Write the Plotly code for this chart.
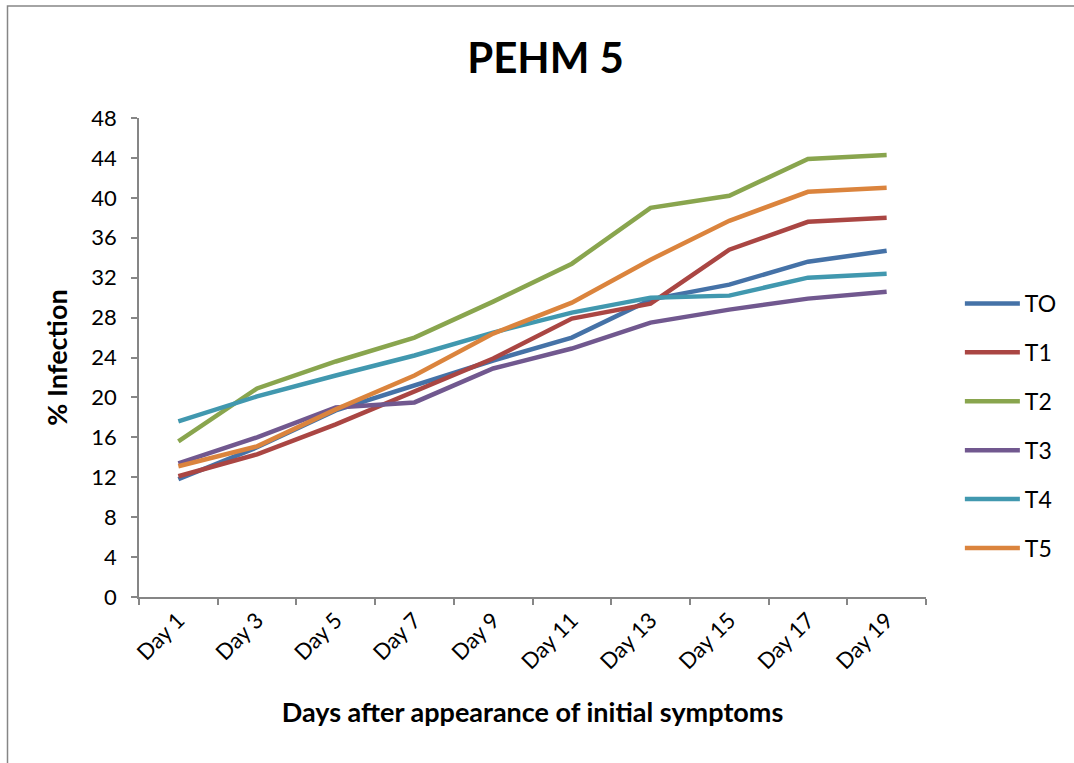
import plotly.graph_objects as go

# Disease progression of PEHM 5 under six treatments
days = ["Day 1", "Day 3", "Day 5", "Day 7", "Day 9",
        "Day 11", "Day 13", "Day 15", "Day 17", "Day 19"]

t0 = [11.8, 15.0, 18.7, 21.2, 23.7, 26.0, 29.8, 31.3, 33.6, 34.7]
t1 = [12.1, 14.3, 17.3, 20.6, 23.9, 27.9, 29.4, 34.8, 37.6, 38.0]
t2 = [15.6, 20.9, 23.6, 26.0, 29.6, 33.4, 39.0, 40.2, 43.9, 44.3]
t3 = [13.4, 16.0, 19.0, 19.5, 22.9, 24.9, 27.5, 28.8, 29.9, 30.6]
t4 = [17.6, 20.1, 22.2, 24.2, 26.5, 28.5, 30.0, 30.2, 32.0, 32.4]
t5 = [13.1, 15.1, 18.8, 22.2, 26.4, 29.5, 33.8, 37.7, 40.6, 41.0]

series_names = ["TO", "T1", "T2", "T3", "T4", "T5"]
series_values = [t0, t1, t2, t3, t4, t5]
series_colors = ["#4572A7", "#AA4643", "#89A54E", "#71588F", "#4198AF", "#DB843D"]

y_ticks = list(range(0, 49, 4))

FONT = "Lato"

fig = go.Figure()
for name, vals, col in zip(series_names, series_values, series_colors):
    fig.add_trace(go.Scatter(
        x=days, y=vals, name=name, mode="lines",
        line=dict(color=col, width=4.5),
        legendgroup=name,
    ))

axis_gray = "#868686"

fig.update_layout(
    width=1074, height=763,
    paper_bgcolor="white", plot_bgcolor="white",
    margin=dict(l=139, r=145, t=118, b=166),
    font=dict(family=FONT, color="black", size=22),
    title=dict(text="<b>PEHM 5</b>", x=0.508, xanchor="center",
               y=1 - 58 / 763, yanchor="middle",
               font=dict(family=FONT, size=42, color="black")),
    showlegend=True,
    legend=dict(x=(968 - 139 - 5) / 790, xanchor="left",
                y=(597 - 426) / 479, yanchor="middle",
                font=dict(family=FONT, size=23, color="black"),
                tracegroupgap=16, itemwidth=55,
                bgcolor="rgba(0,0,0,0)"),
    xaxis=dict(
        type="category", range=[-0.5, 9.5],
        showline=True, linecolor=axis_gray, linewidth=1.5,
        ticks="outside", tickson="boundaries", ticklen=6,
        tickcolor=axis_gray, tickwidth=1.5,
        tickangle=-45, showgrid=False, zeroline=False,
        tickfont=dict(family=FONT, size=22, color="black"),
        title=dict(text="<b>Days after appearance of initial symptoms</b>",
                   font=dict(family=FONT, size=27, color="black"),
                   standoff=30),
    ),
    yaxis=dict(
        range=[0, 48], tickvals=y_ticks,
        showline=True, linecolor=axis_gray, linewidth=1.5,
        ticks="outside", ticklen=6, tickcolor=axis_gray, tickwidth=1.5,
        ticklabelstandoff=10,
        showgrid=False, zeroline=False,
        tickfont=dict(family=FONT, size=22, color="black"),
        title=dict(text="<b>% Infection</b>",
                   font=dict(family=FONT, size=27, color="black"),
                   standoff=16),
    ),
)

# Chart-area frame (left and top edges visible inside the page)
fig.add_shape(type="rect", xref="paper", yref="paper",
              x0=(7 - 139) / 790, x1=(1100 - 139) / 790,
              y0=-(800 - 597) / 479, y1=(597 - 6) / 479,
              line=dict(color=axis_gray, width=1.5), fillcolor="rgba(0,0,0,0)",
              layer="below")

fig.write_html("out.html")
